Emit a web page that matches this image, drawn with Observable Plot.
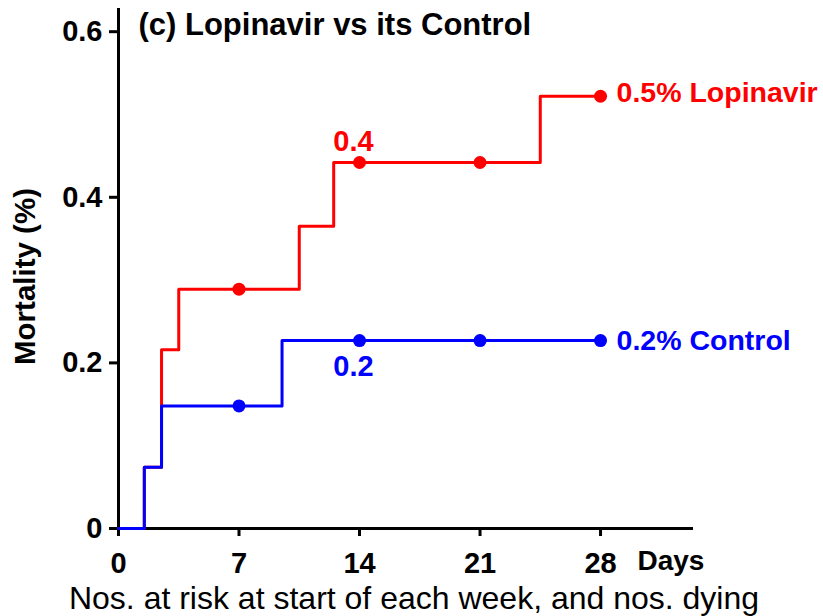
<!DOCTYPE html>
<html>
<head>
<meta charset="utf-8">
<script src="https://cdn.jsdelivr.net/npm/d3@7"></script>
<script src="https://cdn.jsdelivr.net/npm/@observablehq/plot@0.6"></script>
<style>
  html, body { margin: 0; padding: 0; background: #fff; }
</style>
</head>
<body>
<div id="chart"></div>
<script>
// ---- Data ----
const titleText = "(c) Lopinavir vs its Control";
const yLabelText = "Mortality (%)";
const xLabelText = "Days";
const captionText = "Nos. at risk at start of each week, and nos. dying";

const xTicks = [0, 7, 14, 21, 28];
const xTickLabels = ["0", "7", "14", "21", "28"];
const yTicks = [0, 0.2, 0.4, 0.6];
const yTickLabels = ["0", "0.2", "0.4", "0.6"];

// step (Kaplan-Meier style) cumulative mortality
const lopinavirDays = [0, 1.5, 2.5, 3.5, 10.5, 12.5, 24.5, 28];
const lopinavirMort = [0, 0.074, 0.216, 0.289, 0.365, 0.442, 0.522, 0.522];
const controlDays = [0, 1.5, 2.5, 9.5, 28];
const controlMort = [0, 0.074, 0.148, 0.227, 0.227];

// weekly markers
const weekDays = [7, 14, 21, 28];
const lopinavirWeekly = [0.289, 0.442, 0.442, 0.522];
const controlWeekly = [0.148, 0.227, 0.227, 0.227];

const seriesNames = ["0.5% Lopinavir", "0.2% Control"];
const seriesColors = ["#ff0000", "#0000ff"];

// annotations at day 14
const annoDay = 14;
const annoLabels = ["0.4", "0.2"];
const annoValues = [0.442, 0.227];

// ---- Tables ----
const lop = lopinavirDays.map((d, i) => ({day: d, m: lopinavirMort[i]}));
const ctl = controlDays.map((d, i) => ({day: d, m: controlMort[i]}));
const lopW = weekDays.map((d, i) => ({day: d, m: lopinavirWeekly[i]}));
const ctlW = weekDays.map((d, i) => ({day: d, m: controlWeekly[i]}));

const font = "'Liberation Sans', Arial, Helvetica, sans-serif";

const chart = Plot.plot({
  width: 823,
  height: 616,
  marginLeft: 118,
  marginRight: 130,
  marginTop: 8,
  marginBottom: 88,
  x: {domain: [0, 33.4]},
  y: {domain: [0, 0.628]},
  style: {fontFamily: font, fontWeight: "bold", background: "white", color: "black", overflow: "visible"},
  marks: [
    Plot.axisY({ticks: yTicks, tickFormat: (d) => yTickLabels[yTicks.indexOf(d)], tickSize: 9, tickPadding: 7,
      fontSize: 29, fontWeight: "bold", strokeWidth: 3, label: null, stroke: "black", fill: "black"}),
    Plot.axisX({ticks: xTicks, tickFormat: (d) => xTickLabels[xTicks.indexOf(d)], tickSize: 8, tickPadding: 16,
      fontSize: 29, fontWeight: "bold", strokeWidth: 3, label: null, stroke: "black", fill: "black"}),
    Plot.ruleX([0], {y1: 0, y2: 0.628, stroke: "black", strokeWidth: 3}),
    Plot.ruleY([0], {x1: 0, x2: 33.4, stroke: "black", strokeWidth: 3}),
    // series
    Plot.line(lop, {x: "day", y: "m", curve: "step-after", stroke: seriesColors[0], strokeWidth: 3}),
    Plot.line(ctl, {x: "day", y: "m", curve: "step-after", stroke: seriesColors[1], strokeWidth: 3}),
    Plot.dot(lopW, {x: "day", y: "m", r: 6.5, fill: seriesColors[0], stroke: "none"}),
    Plot.dot(ctlW, {x: "day", y: "m", r: 6.5, fill: seriesColors[1], stroke: "none"}),
    // end labels
    Plot.text([0], {x: weekDays[3], y: lopinavirWeekly[3], text: [seriesNames[0]], fill: seriesColors[0],
      textAnchor: "start", lineAnchor: "middle", dx: 16, dy: -3, fontSize: 28.5, fontWeight: "bold"}),
    Plot.text([0], {x: weekDays[3], y: controlWeekly[3], text: [seriesNames[1]], fill: seriesColors[1],
      textAnchor: "start", lineAnchor: "middle", dx: 16, dy: 0, fontSize: 28.5, fontWeight: "bold"}),
    // day 14 annotations
    Plot.text([0], {x: annoDay, y: annoValues[0], text: [annoLabels[0]], fill: seriesColors[0], lineAnchor: "middle",
      dx: -6, dy: -21, fontSize: 29, fontWeight: "bold"}),
    Plot.text([0], {x: annoDay, y: annoValues[1], text: [annoLabels[1]], fill: seriesColors[1], lineAnchor: "middle",
      dx: -6, dy: 26, fontSize: 29, fontWeight: "bold"}),
    // title
    Plot.text([titleText], {frameAnchor: "top-left", textAnchor: "start", lineAnchor: "middle", dx: 20, dy: 16.5,
      fontSize: 31, fontWeight: "bold", fill: "black"}),
    // y label
    Plot.text([yLabelText], {frameAnchor: "left", textAnchor: "middle", lineAnchor: "middle", rotate: -90,
      dx: -93, dy: 8, fontSize: 29.5, fontWeight: "bold", fill: "black"}),
    // x label
    Plot.text([xLabelText], {frameAnchor: "bottom-right", textAnchor: "start", lineAnchor: "middle", dx: -56, dy: 33,
      fontSize: 28, fontWeight: "bold", fill: "black"}),
    // caption
    Plot.text([captionText], {frameAnchor: "bottom", textAnchor: "middle", lineAnchor: "middle", dx: 8, dy: 70,
      fontSize: 32, fontWeight: "normal", fill: "black"})
  ]
});
document.getElementById("chart").appendChild(chart);
</script>
</body>
</html>
